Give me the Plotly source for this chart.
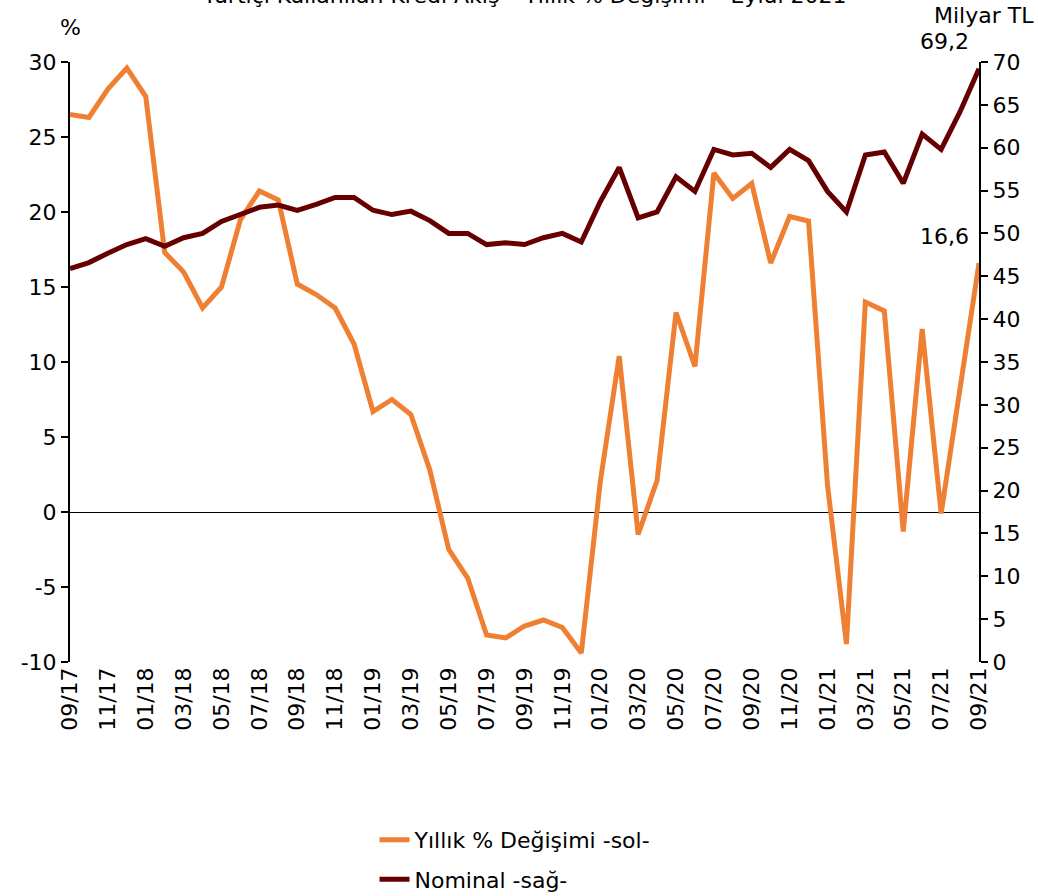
import plotly.graph_objects as go

# Monthly periods 09/17 .. 09/21
months = [
    "09/17", "10/17", "11/17", "12/17", "01/18", "02/18", "03/18", "04/18", "05/18", "06/18",
    "07/18", "08/18", "09/18", "10/18", "11/18", "12/18", "01/19", "02/19", "03/19", "04/19",
    "05/19", "06/19", "07/19", "08/19", "09/19", "10/19", "11/19", "12/19", "01/20", "02/20",
    "03/20", "04/20", "05/20", "06/20", "07/20", "08/20", "09/20", "10/20", "11/20", "12/20",
    "01/21", "02/21", "03/21", "04/21", "05/21", "06/21", "07/21", "08/21", "09/21",
]

# Annual % change (left axis)
yoy_change = [
    26.5, 26.3, 28.2, 29.6, 27.7, 17.3, 16.0, 13.6, 15.0, 19.5,
    21.4, 20.8, 15.2, 14.5, 13.6, 11.2, 6.7, 7.5, 6.5, 2.8,
    -2.5, -4.4, -8.2, -8.4, -7.6, -7.2, -7.7, -9.4, 2.0, 10.4,
    -1.5, 2.1, 13.3, 9.7, 22.6, 20.9, 21.9, 16.6, 19.7, 19.4,
    1.8, -8.8, 14.0, 13.4, -1.3, 12.2, -0.1, 8.0, 16.6,
]

# Nominal level, billion TL (right axis)
nominal = [
    45.9, 46.6, 47.7, 48.7, 49.4, 48.5, 49.5, 50.0, 51.4, 52.3,
    53.05, 53.3, 52.7, 53.4, 54.2, 54.2, 52.7, 52.2, 52.6, 51.5,
    50.0, 50.0, 48.7, 48.9, 48.7, 49.5, 50.0, 49.0, 53.7, 57.7,
    51.8, 52.5, 56.6, 54.9, 59.8, 59.15, 59.35, 57.7, 59.8, 58.5,
    54.9, 52.5, 59.15, 59.5, 55.85, 61.6, 59.8, 64.2, 69.2,
]

left_ticks = [-10, -5, 0, 5, 10, 15, 20, 25, 30]
right_ticks = list(range(0, 75, 5))

FONT = "DejaVu Sans, sans-serif"
FS = 22
ORANGE = "#EF8033"
MAROON = "#660000"

x_idx = list(range(len(months)))

fig = go.Figure()
fig.add_trace(go.Scatter(
    x=x_idx, y=yoy_change, mode="lines", name="Yıllık % Değişimi -sol-",
    legendgroup="a", line=dict(color=ORANGE, width=5), yaxis="y",
))
fig.add_trace(go.Scatter(
    x=x_idx, y=nominal, mode="lines", name="Nominal -sağ-",
    legendgroup="b", line=dict(color=MAROON, width=5), yaxis="y2",
))

fig.update_layout(
    width=1038, height=896,
    margin=dict(l=70, r=59, t=62, b=234),
    paper_bgcolor="white", plot_bgcolor="white",
    font=dict(family=FONT, size=FS, color="black"),
    showlegend=True,
    legend=dict(
        x=0.335, xanchor="left",
        y=0.086, yref="container", yanchor="top",
        orientation="v", font=dict(family=FONT, size=FS),
        traceorder="grouped", tracegroupgap=8,
        bgcolor="rgba(0,0,0,0)",
    ),
    xaxis=dict(
        range=[0, len(months) - 1],
        tickmode="array",
        tickvals=x_idx[::2],
        ticktext=months[::2],
        tickangle=-90,
        showline=False, showgrid=False, zeroline=False,
        ticks="", automargin=False,
        tickfont=dict(family=FONT, size=FS),
    ),
    yaxis=dict(
        range=[-10, 30],
        tickmode="array", tickvals=left_ticks,
        ticktext=[str(v) if v >= 0 else "-" + str(-v) for v in left_ticks],
        showline=True, linecolor="black", linewidth=2,
        ticks="outside", ticklen=7, tickwidth=2, tickcolor="black",
        showgrid=False, automargin=False,
        zeroline=True, zerolinecolor="black", zerolinewidth=1,
        tickfont=dict(family=FONT, size=FS),
    ),
    yaxis2=dict(
        range=[0, 70], overlaying="y", side="right",
        tickmode="array", tickvals=right_ticks,
        showline=True, linecolor="black", linewidth=2,
        ticks="outside", ticklen=7, tickwidth=2, tickcolor="black",
        showgrid=False, zeroline=False, automargin=False,
        tickfont=dict(family=FONT, size=FS),
    ),
)

last = len(months) - 1
fig.add_annotation(
    x=last, y=nominal[-1], yref="y2", text=f"{nominal[-1]:.1f}".replace(".", ","),
    showarrow=False, xanchor="right", yanchor="middle", xshift=-8, yshift=27,
    font=dict(family=FONT, size=FS),
)
fig.add_annotation(
    x=last, y=yoy_change[-1], yref="y", text=f"{yoy_change[-1]:.1f}".replace(".", ","),
    showarrow=False, xanchor="right", yanchor="middle", xshift=-8, yshift=27,
    font=dict(family=FONT, size=FS),
)
fig.add_annotation(
    x=0, y=1.058, xref="paper", yref="paper", text="%",
    showarrow=False, xanchor="center", yanchor="middle",
    font=dict(family=FONT, size=FS),
)
fig.add_annotation(
    x=1.006, y=1.078, xref="paper", yref="paper", text="Milyar TL",
    showarrow=False, xanchor="center", yanchor="middle",
    font=dict(family=FONT, size=FS),
)
fig.add_annotation(
    x=0.5, y=1.11, xref="paper", yref="paper",
    text="Yurtiçi Kullanılan Kredi Akış – Yıllık % Değişimi – Eylül 2021",
    showarrow=False, xanchor="center", yanchor="middle",
    font=dict(family=FONT, size=FS),
)

fig.write_html("out.html")
